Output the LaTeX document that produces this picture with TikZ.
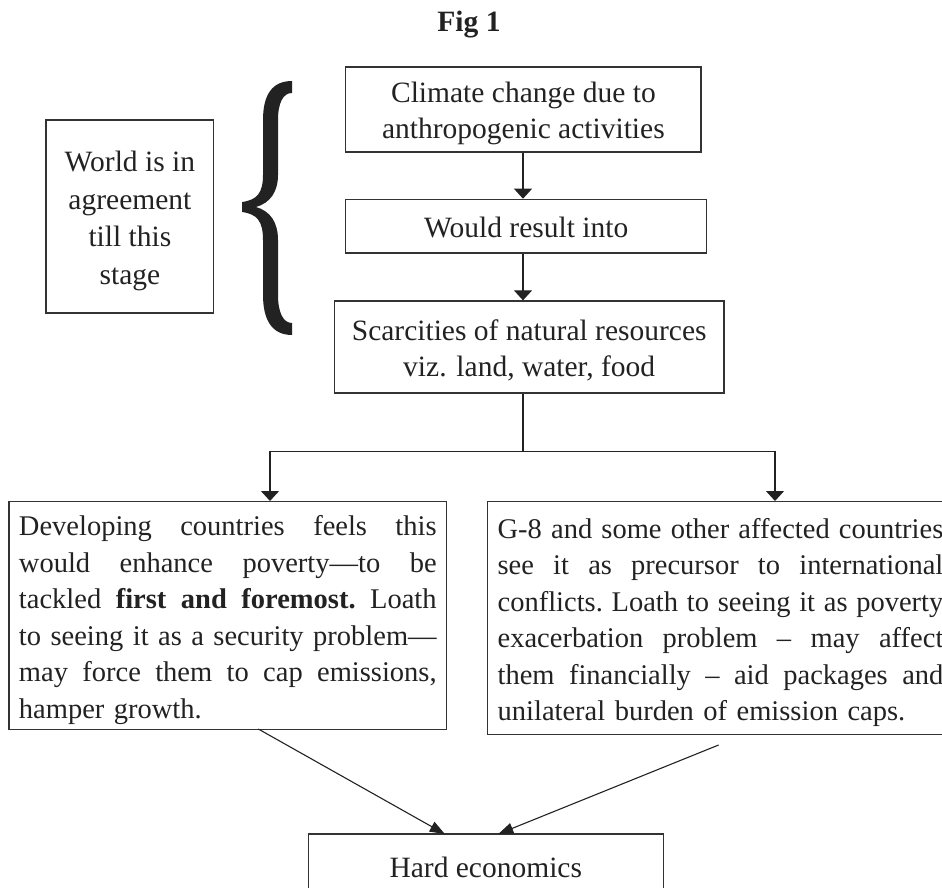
\documentclass[tikz,border=0pt]{standalone}
\usepackage{fontspec}
\setmainfont{Liberation Serif}
\usetikzlibrary{arrows.meta}
\definecolor{ink}{HTML}{222222}
\definecolor{edge}{HTML}{333333}
\newcommand{\jl}[2]{\leavevmode\hbox to #1{\spaceskip=.25em plus 1fil minus .08em\xspaceskip=\spaceskip #2}}
\newcommand{\st}{\rule[-7pt]{0pt}{36.5pt}}
\begin{document}
\begin{tikzpicture}[x=1pt,y=-1pt,
  box/.style={draw=edge,line width=1.3pt,inner sep=0pt,text=ink,font=\fontsize{29.5}{36.5}\selectfont,align=center},
  bigbox/.style={draw=edge,line width=1.3pt,inner xsep=10pt,inner ysep=2.5pt,text=ink,font=\fontsize{28.5}{36.5}\selectfont,align=left,anchor=north west,minimum height=228pt},
  varr/.style={draw=ink,line width=1.1pt,-{Triangle[width=18pt,length=10pt]}},
  darr/.style={draw=ink,line width=1.1pt,-{Triangle[width=11pt,length=15pt]}},
  conn/.style={draw=ink,line width=1.1pt}]
\useasboundingbox (0,0) rectangle (942,888);
\node[font=\bfseries\fontsize{29.5}{32}\selectfont,text=ink] (title) at (469,25) {Fig 1};
\node[box,minimum width=355.3pt,minimum height=85pt] (b1) at (523.4,109.5) {\st Climate change due to\\\st anthropogenic activities};
\node[box,minimum width=361pt,minimum height=53.7pt] (b2) at (526.2,226.2) {\st Would result into};
\node[box,minimum width=389.7pt,minimum height=92pt] (b3) at (529.2,347) {\st Scarcities of natural resources\\\st viz. land, water, food};
\node[box,minimum width=167.7pt,minimum height=193pt,font=\fontsize{29.5}{37.5}\selectfont] (wb) at (129.9,216.5) {\st World is in\\\st agreement\\\st till this\\\st stage};
\node[box,minimum width=355pt,minimum height=64pt] (hb) at (485.8,866) {\st Hard economics};
\node[bigbox,text width=417.7pt] (lb) at (8.3,501) {\st\jl{417.7pt}{Developing countries feels this}\\\jl{417.7pt}{would enhance poverty---to be}\\\jl{417.7pt}{tackled \textbf{first and foremost.} Loath}\\\jl{417.7pt}{to seeing it as a security problem---}\\\jl{417.7pt}{may force them to cap emissions,}\\hamper growth.\st};
\node[bigbox,text width=445.7pt,minimum height=233pt] (rb) at (487,501) {\st\jl{445.7pt}{G-8 and some other affected countries}\\\jl{445.7pt}{see it as precursor to international}\\\jl{445.7pt}{conflicts. Loath to seeing it as poverty}\\\jl{445.7pt}{exacerbation problem -- may affect}\\\jl{445.7pt}{them financially -- aid packages and}\\unilateral burden of emission caps.\st};
% brace
\fill[ink] (292,81) .. controls (272,81) and (263,95) .. (263,120) -- (263,175)
  .. controls (263,193) and (257,200) .. (242,202) -- (242,212)
  .. controls (257,214) and (263,221) .. (263,240) -- (263,295)
  .. controls (263,320) and (272,335) .. (292,335) -- (292,323)
  .. controls (283,323) and (278,312) .. (278,295) -- (278,240)
  .. controls (278,222) and (270,211) .. (256,207)
  .. controls (270,203) and (278,192) .. (278,175) -- (278,120)
  .. controls (278,103) and (283,93) .. (292,93) -- cycle;
% connectors
\draw[varr] (523,0 |- b1.south) -- (523,0 |- b2.north);
\draw[varr] (523,0 |- b2.south) -- (523,0 |- b3.north);
\coordinate (split) at (523,451.7);
\coordinate (lt) at (270,501);
\coordinate (rt) at (775,501);
\draw[conn] (split |- b3.south) -- (split);
\draw[varr] (split) -| (lt);
\draw[varr] (split) -| (rt);
\coordinate (la) at (258.3,729);
\coordinate (ra) at (718.6,745);
\coordinate (hl) at (444.8,834);
\coordinate (hr) at (498.3,834);
\draw[darr] (la) -- (hl);
\draw[darr] (ra) -- (hr);
\end{tikzpicture}
\end{document}
